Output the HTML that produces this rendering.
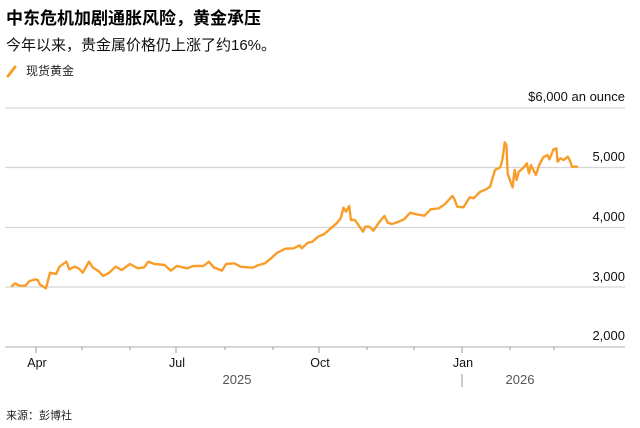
<!DOCTYPE html>
<html><head><meta charset="utf-8"><style>
body{margin:0;width:640px;height:428px;background:#fff;font-family:"Liberation Sans","Noto Sans CJK SC",sans-serif;position:relative;overflow:hidden}
.t{position:absolute;white-space:nowrap;color:#000}
</style></head><body>
<div class="t" style="left:6px;top:4px;font-size:17px;font-weight:bold">中东危机加剧通胀风险，黄金承压</div>
<div class="t" style="left:6px;top:34px;font-size:15px;color:#111">今年以来，贵金属价格仍上涨了约16%。</div>
<div class="t" style="left:26px;top:62px;font-size:12px;color:#222">现货黄金</div>
<svg style="position:absolute;left:0;top:0" width="640" height="428">
<line x1="8" y1="76" x2="15" y2="67" stroke="#f99d2a" stroke-width="3" stroke-linecap="round"/>
<g stroke="#d6d6d6" stroke-width="1.2">
<line x1="5" y1="108" x2="625" y2="108"/><line x1="5" y1="167.5" x2="625" y2="167.5"/>
<line x1="5" y1="227.5" x2="625" y2="227.5"/><line x1="5" y1="287" x2="625" y2="287"/>
</g>
<line x1="5" y1="347" x2="625" y2="347" stroke="#d6d6d6" stroke-width="2"/>
<g stroke="#999" stroke-width="1">
<line x1="36" y1="347" x2="36" y2="353"/><line x1="176" y1="347" x2="176" y2="353"/><line x1="319" y1="347" x2="319" y2="353"/><line x1="462" y1="347" x2="462" y2="353"/>
<line x1="82" y1="347" x2="82" y2="350"/><line x1="130" y1="347" x2="130" y2="350"/><line x1="225" y1="347" x2="225" y2="350"/><line x1="273" y1="347" x2="273" y2="350"/><line x1="367" y1="347" x2="367" y2="350"/><line x1="414" y1="347" x2="414" y2="350"/><line x1="510" y1="347" x2="510" y2="350"/><line x1="554" y1="347" x2="554" y2="350"/>
<line x1="462" y1="374" x2="462" y2="387"/>
</g>
<g transform="translate(-1.14,80) scale(0.40933,0.33333)">
<polyline fill="none" stroke="#f99d2a" stroke-width="2.4" vector-effect="non-scaling-stroke" stroke-linejoin="round" points="30,620 40,610 50,617 65,617 75,603 90,598 95,600 100,613 115,625 125,578 140,582 148,560 165,545 172,568 185,560 195,565 205,578 220,545 230,563 245,575 255,588 270,578 285,560 300,570 320,552 340,565 355,562 365,545 380,552 405,555 420,572 435,558 460,565 475,558 500,558 513,545 525,562 545,572 555,552 575,550 590,560 620,563 635,555 650,550 665,535 680,518 700,506 720,505 735,496 740,505 755,488 765,486 780,470 795,462 810,446 825,430 835,415 842,383 848,395 856,378 860,420 870,420 880,438 890,455 895,440 905,440 915,452 930,425 942,408 950,428 960,432 975,426 990,418 1005,398 1020,403 1040,407 1055,388 1075,385 1090,372 1108,348 1112,355 1120,380 1135,382 1150,352 1160,355 1175,336 1190,328 1200,320 1212,270 1225,262 1230,240 1236,187 1240,195 1243,280 1250,305 1255,322 1260,270 1265,300 1270,275 1280,265 1290,250 1295,280 1300,255 1305,268 1312,285 1320,255 1330,232 1340,225 1345,238 1355,208 1362,205 1365,245 1372,235 1380,240 1390,230 1395,242 1400,260 1415,260"/>
</g>
<g font-family="Liberation Sans, sans-serif" font-size="13" fill="#111" text-anchor="end">
<text x="625" y="101">$6,000 an ounce</text>
<text x="625" y="161">5,000</text><text x="625" y="221">4,000</text><text x="625" y="281">3,000</text><text x="625" y="340">2,000</text>
</g>
<g font-family="Liberation Sans, sans-serif" font-size="12.5" fill="#111" text-anchor="middle">
<text x="37" y="367">Apr</text><text x="177" y="367">Jul</text><text x="320" y="367">Oct</text><text x="463" y="367">Jan</text>
</g>
<g font-family="Liberation Sans, sans-serif" font-size="13" fill="#555" text-anchor="middle">
<text x="237" y="384">2025</text><text x="520" y="384">2026</text>
</g>
</svg>
<div class="t" style="left:6px;top:407px;font-size:11px;color:#222">来源：彭博社</div>
</body></html>
